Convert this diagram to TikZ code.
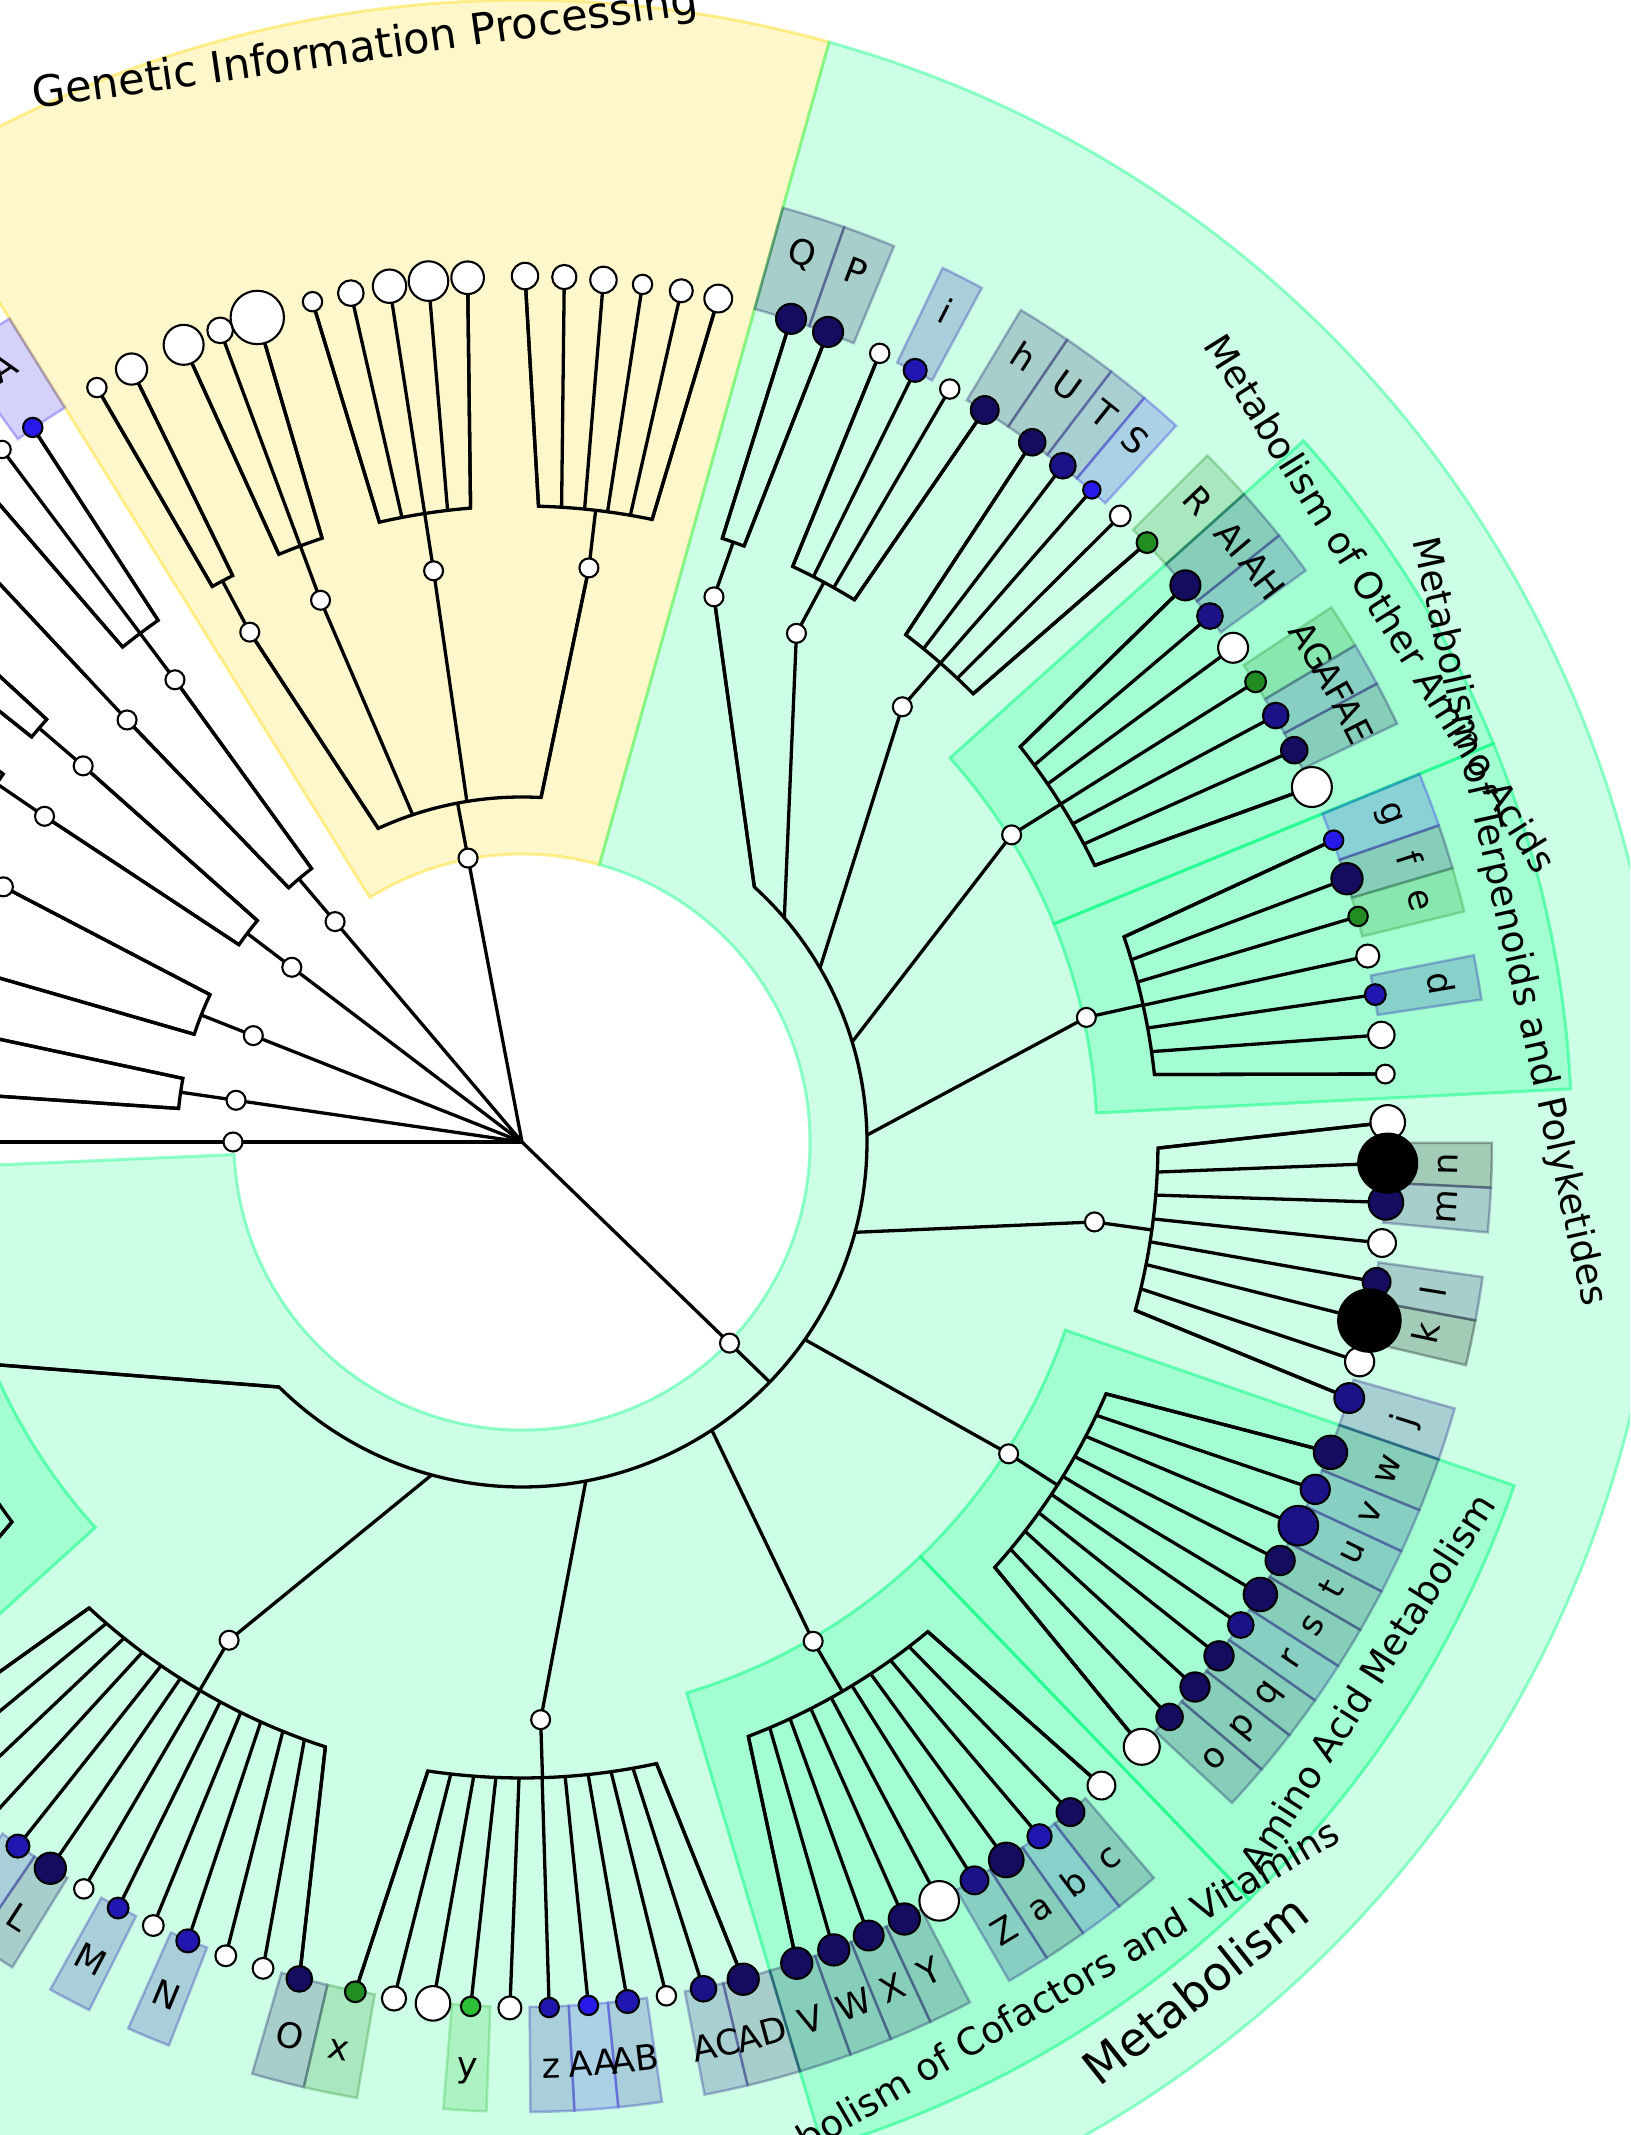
\documentclass[tikz,border=0pt]{standalone}
\usepackage{fontspec}
\setmainfont{DejaVu Sans}
\definecolor{mint}{RGB}{0,255,127}
\definecolor{gld}{RGB}{255,215,0}
\definecolor{nvD}{RGB}{20,12,95}
\definecolor{nvM}{RGB}{28,18,135}
\definecolor{nvL}{RGB}{33,22,175}
\definecolor{blB}{RGB}{40,25,235}
\definecolor{grn}{RGB}{34,139,34}
\definecolor{grB}{RGB}{45,190,55}
% annular sector: style, screen angle a1, a2, r1, r2
\newcommand\mySec[5]{\path[#1] ({-(#2)}:#4pt) -- ({-(#2)}:#5pt) arc[start angle={-(#2)}, end angle={-(#3)}, radius=#5pt] -- ({-(#3)}:#4pt) arc[start angle={-(#3)}, end angle={-(#2)}, radius=#4pt] -- cycle;}
% level-1 clade: angle, first child, last child
\newcommand\myLone[3]{%
 \pgfmathsetmacro\fA{(#1)+0.8*((#2)-(#1))}%
 \pgfmathsetmacro\lA{(#1)+0.8*((#3)-(#1))}%
 \draw[br] (root) -- ({-(#1)}:345pt);%
 \draw[br] ({-(#2)}:578pt) -- ({-(\fA)}:345pt) arc[start angle={-(\fA)}, end angle={-(\lA)}, radius=345pt] -- ({-(#3)}:578pt);}
% level-2 clade: parent, node, first leaf, last leaf, all leaves
\newcommand\myClade[5]{%
 \pgfmathsetmacro\cA{(#1)+0.8*((#2)-(#1))}%
 \pgfmathsetmacro\fA{(#2)+0.8*((#3)-(#2))}%
 \pgfmathsetmacro\lA{(#2)+0.8*((#4)-(#2))}%
 \draw[br] ({-(\cA)}:345pt) -- ({-(#2)}:578pt) -- ({-(#2)}:636pt);%
 \draw[br] ({-(#3)}:866pt) -- ({-(\fA)}:636pt) arc[start angle={-(\fA)}, end angle={-(\lA)}, radius=636pt] -- ({-(#4)}:866pt);%
 \foreach \lv in {#5}{\pgfmathsetmacro\aA{(#2)+0.8*((\lv)-(#2))}\draw[br] ({-(\aA)}:636pt) -- ({-(\lv)}:866pt);}%
}
\begin{document}
\begin{tikzpicture}[x=1pt,y=1pt,
  br/.style={line width=3.3pt, draw=black, line join=miter, line cap=butt},
  lfc/.style={circle, draw=black, line width=2.1pt, inner sep=0pt, outer sep=0pt},
  inode/.style={lfc, fill=white, minimum size=19pt},
  bx/.style={fill opacity=0.2, draw opacity=0.3, line width=2.5pt},
  csec/.style={fill=mint, fill opacity=0.2, draw=mint, draw opacity=0.5, line width=3pt},
  lbl/.style={font=\fontsize{35}{41}\selectfont, text height=25.5pt, text depth=8.4pt, inner sep=0pt},
  clab/.style={font=\fontsize{37.5}{44}\selectfont, inner sep=0pt, anchor=base},
  lonelab/.style={inner sep=0pt, anchor=base}]
\useasboundingbox (-522,-993) rectangle (1108,1142);
\clip (-522,-993) rectangle (1108,1142);
\coordinate (root) at (0,0);
% level-1 backgrounds
\mySec{fill=gld, fill opacity=0.2, draw=gld, draw opacity=0.4, line width=3pt}{-121.9}{-74.4}{288}{1142}
\mySec{fill=mint, fill opacity=0.2, draw=mint, draw opacity=0.4, line width=3pt}{-74.4}{177.5}{288}{1142}
% class backgrounds
\mySec{csec}{-41.9}{-22.3}{575}{1050}
\mySec{csec}{-22.3}{-2.9}{575}{1050}
\mySec{csec}{19.1}{46.15}{575}{1050}
\mySec{csec}{46.15}{73.35}{575}{1050}
\mySec{csec}{137.9}{176.9}{575}{1050}
% label boxes
\foreach \lfC/\lfS/\lfE in {
 blB/-125.65/-121.9, nvD/-74.4/-70.6, nvD/-70.6/-67.45,
 nvL/-64.3/-61.7, nvD/-59.05/-55.8, nvD/-55.8/-52.6,
 nvM/-52.6/-50.1, blB/-50.1/-47.6, grn/-45.05/-41.9,
 nvD/-41.9/-38.7, nvM/-38.7/-36.1, grn/-33.45/-30.8,
 nvM/-30.8/-28.2, nvD/-28.2/-25.55, blB/-22.3/-19.05,
 nvD/-19.05/-16.4, grn/-16.4/-13.75, nvL/-11.1/-8.45,
 black/0.05/2.7, nvD/2.7/5.35, nvD/8.0/10.6, black/10.6/13.3, nvM/15.95/19.1,
 nvD/19.1/22.3, nvM/22.3/24.95, nvM/24.95/27.6,
 nvD/27.6/30.2, nvD/30.2/32.7, nvM/32.7/35.15,
 nvD/35.15/37.7, nvD/37.7/40.3, nvD/40.3/42.95,
 nvD/49.35/52.0, nvL/52.0/54.65, nvD/54.65/57.25,
 nvM/57.25/59.85, nvD/62.5/65.1, nvD/65.1/67.65,
 nvD/67.65/70.2, nvD/70.2/73.35, nvD/73.35/76.55,
 nvM/76.55/79.15, nvL/81.7/84.3, blB/84.3/86.9,
 nvL/86.9/89.5, grB/92.1/94.65, grn/99.8/103.0,
 nvD/103.0/106.15, nvL/111.35/113.95, nvL/116.5/119.1,
 nvD/121.7/124.3, nvL/124.3/126.9}
 {\mySec{bx, fill=\lfC, draw=\lfC}{\lfS}{\lfE}{865}{970}}
% tree
\myLone{-100.76}{-118.1}{-83.35}
\myClade{-100.76}{-118.1}{-119.4}{-116.8}{-119.4,-116.8}
\myClade{-100.76}{-110.4}{-113.0}{-107.8}{-113.0,-110.4,-107.8}
\myClade{-100.76}{-98.8}{-104.0}{-93.6}{-104.0,-101.4,-98.8,-96.2,-93.6}
\myClade{-100.76}{-83.35}{-89.8}{-76.9}{-89.8,-87.2,-84.6,-82.0,-79.4,-76.9}
\myLone{-130.3}{-126.9}{-133.1}
\myClade{-130.3}{-126.9}{-124.4}{-129.4}{-124.4,-126.9,-129.4}
\myClade{-130.3}{-133.1}{-133.1}{-133.1}{-133.1}
\myLone{-142.8}{-139.4}{-145.7}
\myClade{-142.8}{-139.4}{-138.1}{-140.7}{-138.1,-140.7}
\myClade{-142.8}{-145.7}{-144.4}{-147.0}{-144.4,-147.0}
\myLone{-158.4}{-153.8}{-162.65}
\myClade{-158.4}{-153.8}{-152.5}{-155.1}{-152.5,-155.1}
\myClade{-158.4}{-162.65}{-161.35}{-163.95}{-161.35,-163.95}
\myLone{-171.7}{-168.8}{-175.1}
\myClade{-171.7}{-168.8}{-167.5}{-170.1}{-167.5,-170.1}
\myClade{-171.7}{-175.1}{-175.1}{-175.1}{-175.1}
\myLone{-180}{-180}{-180}
\myClade{-180}{-180}{-180}{-180}{-180}
\myLone{44.1}{-70.6}{157.4}
\myClade{44.1}{-70.6}{-71.9}{-69.3}{-71.9,-69.3}
\myClade{44.1}{-61.65}{-65.6}{-57.7}{-65.6,-63.0,-60.4,-57.7}
\myClade{44.1}{-48.85}{-53.9}{-43.8}{-53.9,-51.35,-48.85,-46.3,-43.8}
\myClade{44.1}{-32.1}{-40.0}{-24.2}{-40.0,-37.4,-34.8,-32.1,-29.5,-26.9,-24.2}
\myClade{44.1}{-12.45}{-20.4}{-4.5}{-20.4,-17.7,-15.1,-12.4,-9.8,-7.1,-4.5}
\myClade{44.1}{7.95}{-1.3}{17.2}{-1.3,1.4,4.0,6.7,9.3,11.9,14.7,17.2}
\myClade{44.1}{32.65}{21.0}{44.3}{21.0,23.65,26.3,28.9,31.5,33.9,36.4,39.0,41.6,44.3}
\myClade{44.1}{59.75}{48.0}{71.5}{48.0,50.7,53.3,56.0,58.5,61.2,63.8,66.4,68.9,71.5}
\myClade{44.1}{88.15}{75.2}{101.1}{75.2,77.9,80.4,83.0,85.6,88.2,90.8,93.4,95.9,98.5,101.1}
\myClade{44.1}{120.45}{104.9}{136.0}{104.9,107.4,110.0,112.7,115.2,117.8,120.4,123.0,125.6,128.2,130.8,133.4,136.0}
\myClade{44.1}{157.4}{139.8}{175.0}{139.8,142.5,145.2,147.9,150.6,153.3,156.0,158.8,161.5,164.2,166.9,169.6,172.3,175.0}
% internal nodes
\foreach \na [count=\ni] in {-100.76,-130.3,-142.8,-158.4,-171.7,-180,44.1}
 {\node[inode] (one\ni) at ({-(\na)}:289pt) {};}
\foreach \na [count=\ni] in {-118.1,-110.4,-98.8,-83.35,-126.9,-133.1,-139.4,-145.7,-153.8,-162.65,-168.8,-175.1,-180,
 -70.6,-61.65,-48.85,-32.1,-12.45,7.95,32.65,59.75,88.15,120.45,157.4}
 {\node[inode] (two\ni) at ({-(\na)}:578pt) {};}
% unlabeled leaves
\foreach \lfA/\lfR/\lfC [count=\ni] in {
 -119.4/9.7/white, -116.8/15.6/white, -113.0/20/white, -110.4/12.8/white, -107.8/26.7/white,
 -104.0/9.7/white, -101.4/12.8/white, -98.8/16.7/white, -96.2/19.8/white, -93.6/16.3/white,
 -89.8/13.2/white, -87.2/12.1/white, -84.6/13.2/white, -82.0/9.7/white, -79.4/11.5/white, -76.9/13.9/white,
 -126.9/8.7/white, -129.4/9/white, -133.1/9/white, -138.1/9/white, -140.7/9/white, -144.4/9/white,
 -147.0/9/white, -152.5/9/white, -155.1/9/white, -161.35/9/white, -163.95/9/white, -167.5/9/white,
 -170.1/9/white, -175.1/9/white, -180/9/white,
 -65.6/9.7/white, -60.4/9.7/white, -46.3/10.4/white, -34.8/15/white, -24.2/20/white, -12.4/11.5/white,
 -7.1/13.2/white, -4.5/9.4/white, -1.3/17.3/white, 6.7/13.9/white, 14.7/14.6/white, 44.3/18/white,
 48.0/13.9/white, 61.2/19.8/white, 80.4/9.7/white, 90.8/11.5/white, 95.9/17.3/white, 98.5/12.1/white,
 107.4/10.4/white, 110.0/10.4/white, 115.2/10.4/white, 120.4/9.7/white, 128.2/9/white, 130.8/9/white,
 133.4/9/white, 136.0/9/white}
 {\node[lfc, minimum size=\lfR*2pt, fill=\lfC] (u\ni) at ({-(\lfA)}:866pt) {};}
% labeled leaves (black ones last so they lie on top)
\foreach \lfA/\lfR/\lfC/\lfT in {
 -124.4/9.7/blB/A, -71.9/15/nvD/Q, -69.3/15/nvD/P, -63.0/11.5/nvL/i, -57.7/13.9/nvD/h, -53.9/13.2/nvD/U,
 -51.35/12.8/nvM/T, -48.85/8.7/blB/S, -43.8/10.4/grn/R, -40.0/15/nvD/AI, -37.4/12.8/nvM/AH, -32.1/10.4/grn/AG,
 -29.5/12.8/nvM/AF, -26.9/13.2/nvD/AE, -20.4/9.7/blB/g, -17.7/15.6/nvD/f, -15.1/9.7/grn/e, -9.8/10.4/nvL/d,
 4.0/17.3/nvD/m, 9.3/13.9/nvD/l, 17.2/14.9/nvM/j, 21.0/16.7/nvD/w, 23.65/14.6/nvM/v, 26.3/19.8/nvM/u,
 28.9/14.6/nvD/t, 31.5/16.7/nvD/s, 33.9/12.8/nvM/r, 36.4/14.6/nvD/q, 39.0/14.6/nvD/p, 41.6/13.2/nvD/o,
 50.7/13.9/nvD/c, 53.3/12.1/nvL/b, 56.0/17.3/nvD/a, 58.5/13.9/nvM/Z, 63.8/15.6/nvD/Y, 66.4/14.9/nvD/X,
 68.9/15.6/nvD/W, 71.5/15.6/nvD/V, 75.2/15.6/nvD/AD, 77.9/12.8/nvM/AC, 83.0/11.5/nvL/AB, 85.6/9.7/blB/AA,
 88.2/9.7/nvL/z, 93.4/9.7/grB/y, 101.1/10.4/grn/x, 104.9/12.8/nvD/O, 112.7/11.5/nvL/N, 117.8/10.4/nvL/M,
 123.0/15.6/nvD/L, 125.6/11.5/nvL/K, 1.4/29.5/black/n, 11.9/31.2/black/k}
 {\node[lfc, minimum size=\lfR*2pt, fill=\lfC] (leaf\lfT) at ({-(\lfA)}:866pt) {};}
% leaf labels, centred in their boxes
\foreach \lfT/\lfS/\lfE in {
 A/-125.65/-121.9, Q/-74.4/-70.6, P/-70.6/-67.45, i/-64.3/-61.7, h/-59.05/-55.8, U/-55.8/-52.6,
 T/-52.6/-50.1, S/-50.1/-47.6, R/-45.05/-41.9, AI/-41.9/-38.7, AH/-38.7/-36.1, AG/-33.45/-30.8,
 AF/-30.8/-28.2, AE/-28.2/-25.55, g/-22.3/-19.05, f/-19.05/-16.4, e/-16.4/-13.75, d/-11.1/-8.45,
 n/0.05/2.7, m/2.7/5.35, l/8.0/10.6, k/10.6/13.3, j/15.95/19.1,
 w/19.1/22.3, v/22.3/24.95, u/24.95/27.6, t/27.6/30.2, s/30.2/32.7, r/32.7/35.15,
 q/35.15/37.7, p/37.7/40.3, o/40.3/42.95, c/49.35/52.0, b/52.0/54.65, a/54.65/57.25,
 Z/57.25/59.85, Y/62.5/65.1, X/65.1/67.65, W/67.65/70.2, V/70.2/73.35, AD/73.35/76.55,
 AC/76.55/79.15, AB/81.7/84.3, AA/84.3/86.9, z/86.9/89.5, y/92.1/94.65, x/99.8/103.0,
 O/103.0/106.15, N/111.35/113.95, M/116.5/119.1, L/121.7/124.3}
 {\pgfmathsetmacro\mid{(\lfS+\lfE)/2}
  \pgfmathsetmacro\rot{(\mid<0) ? -(\mid+90) : 90-(\mid)}
  \node[lbl, rotate=\rot] (lab\lfT) at ({-(\mid)}:928pt) {\lfT};}
% class labels
\node[clab, rotate=-57.9] (cl4) at (32.1:1000pt) {Metabolism of Other Amino Acids};
\node[clab, rotate=-77.4] (cl5) at (12.6:1000pt) {Metabolism of Terpenoids and Polyketides};
\node[clab, rotate=57.4] (cl7) at (-32.6:1017pt) {Amino Acid Metabolism};
\node[clab, rotate=30.25] (cl8) at (-59.75:1017pt) {Metabolism of Cofactors and Vitamins};
% level-1 labels
\node[lonelab, font=\fontsize{43}{50}\selectfont, rotate=8.15] (gip) at (98.15:1092pt) {Genetic Information Processing};
\node[lonelab, font=\fontsize{47}{54}\selectfont, rotate=38.45] (met) at (-51.55:1100pt) {Metabolism};
\end{tikzpicture}
\end{document}
